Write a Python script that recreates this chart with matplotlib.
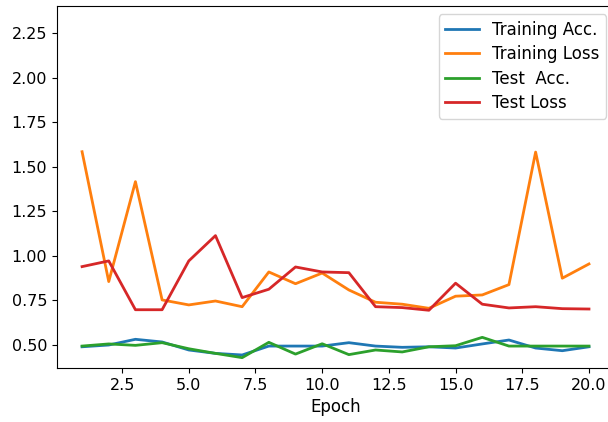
import matplotlib
matplotlib.use("Agg")
import matplotlib.pyplot as plt

plt.rcParams.update({"font.size": 11.5})

epochs = list(range(1, 21))
train_acc = [0.490, 0.500, 0.532, 0.517, 0.472, 0.453, 0.444, 0.494, 0.494, 0.494,
             0.513, 0.494, 0.487, 0.490, 0.483, 0.506, 0.528, 0.483, 0.468, 0.490]
train_loss = [1.585, 0.856, 1.417, 0.753, 0.725, 0.747, 0.715, 0.910, 0.844, 0.904,
              0.809, 0.740, 0.729, 0.706, 0.774, 0.781, 0.839, 1.583, 0.875, 0.955]
test_acc = [0.494, 0.506, 0.498, 0.513, 0.479, 0.453, 0.429, 0.515, 0.449, 0.507,
            0.446, 0.472, 0.461, 0.490, 0.496, 0.543, 0.494, 0.494, 0.494, 0.494]
test_loss = [0.940, 0.972, 0.698, 0.698, 0.972, 1.114, 0.766, 0.813, 0.938, 0.910,
             0.906, 0.715, 0.710, 0.695, 0.847, 0.729, 0.708, 0.715, 0.704, 0.702]

fig = plt.figure(figsize=(6.08, 4.22), dpi=100)
ax = fig.add_axes([0.0933, 0.128, 0.9171, 0.8578])

ax.plot(epochs, train_acc, lw=2, label="Training Acc.")
ax.plot(epochs, train_loss, lw=2, label="Training Loss")
ax.plot(epochs, test_acc, lw=2, label="Test  Acc.")
ax.plot(epochs, test_loss, lw=2, label="Test Loss")

ax.set_ylim(0.371, 2.403)
ax.set_xlabel("Epoch", fontsize=12)
ax.legend(loc="upper right", fontsize=12, labelspacing=0.38)

fig.savefig("out.png", dpi=100)
